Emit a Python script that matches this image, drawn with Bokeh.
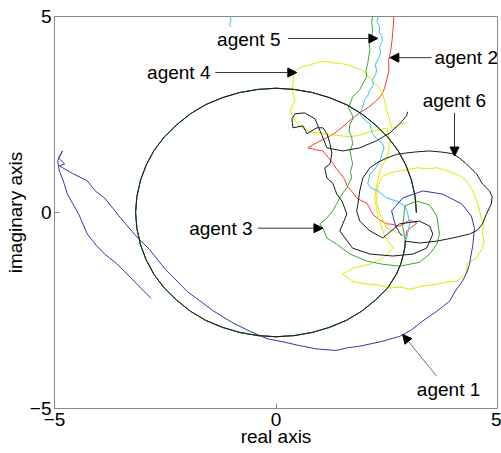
from bokeh.plotting import figure
from bokeh.models import Range1d, FixedTicker, Arrow, NormalHead, Label
from bokeh.embed import file_html
from bokeh.resources import INLINE

# shared circular part of the trajectories (agents 2-6)
circle_x = [3.17, 3.14, 3.06, 2.93, 2.75, 2.52, 2.24, 1.93, 1.59, 1.21, 0.82, 0.41, 0.0,
            -0.41, -0.82, -1.21, -1.59, -1.93, -2.24, -2.52, -2.75, -2.93, -3.06, -3.14, -3.17,
            -3.14, -3.06, -2.93, -2.75, -2.52, -2.24, -1.93, -1.59, -1.21, -0.82, -0.41, 0.0,
            0.41, 0.82, 1.21, 1.59, 1.93, 2.24, 2.52, 2.72, 2.82, 2.88, 2.91, 2.92]
circle_y = [0.0, 0.41, 0.82, 1.21, 1.59, 1.93, 2.24, 2.52, 2.75, 2.93, 3.06, 3.14, 3.17,
            3.14, 3.06, 2.93, 2.75, 2.52, 2.24, 1.93, 1.59, 1.21, 0.82, 0.41, 0.0,
            -0.41, -0.82, -1.21, -1.59, -1.93, -2.24, -2.52, -2.75, -2.93, -3.06, -3.14, -3.17,
            -3.14, -3.06, -2.93, -2.75, -2.52, -2.24, -1.93, -1.57, -1.30, -1.05, -0.88, -0.72]

# agent 1 (blue)
a1_x = [-2.82, -3.12, -3.42, -3.60, -3.87, -4.05, -4.26, -4.45, -4.71, -4.80, -4.89, -4.93, -4.82,
        -4.91, -4.77, -4.89, -4.60, -4.26, -4.08, -3.87, -3.55, -3.20, -2.85, -2.52, -2.00, -1.40,
        -1.00, -0.59, -0.20, 0.16, 0.55, 0.92, 1.35, 1.62, 1.89, 2.35, 2.79, 3.05, 3.31, 3.63,
        3.92, 4.05, 4.21, 4.30, 4.37, 4.40, 4.44, 4.48, 4.41, 4.19, 3.76, 3.31, 2.86, 2.61,
        2.70, 2.84]
a1_y = [-2.19, -1.85, -1.50, -1.30, -1.06, -0.85, -0.55, -0.05, 0.47, 0.80, 1.06, 1.32, 1.57,
        1.39, 1.24, 1.19, 1.00, 0.81, 0.55, 0.37, -0.08, -0.55, -0.95, -1.42, -2.02, -2.52,
        -2.80, -3.03, -3.22, -3.30, -3.40, -3.48, -3.52, -3.45, -3.41, -3.30, -3.16, -3.00, -2.77, -2.52,
        -2.26, -2.00, -1.75, -1.55, -1.32, -1.10, -0.86, -0.40, -0.09, 0.22, 0.47, 0.55, 0.37, 0.04,
        -0.35, -0.60]

# agent 2 (red) tail
a2_x = [2.95, 3.18, 3.02, 2.79, 2.62, 2.50, 2.35, 2.18, 2.12, 2.05, 1.93, 1.82, 1.74, 1.60, 1.55,
        1.44, 1.36, 1.28, 1.18, 1.06, 0.90, 0.72, 0.95, 1.15, 1.32, 1.51, 1.70, 1.89, 2.08, 2.27,
        2.38, 2.45, 2.50, 2.55, 2.54, 2.59, 2.62, 2.64, 2.66]
a2_y = [-0.47, -0.27, -0.19, -0.35, -0.30, -0.29, -0.20, -0.04, 0.10, 0.24, 0.30, 0.37, 0.50, 0.68, 0.85,
        1.01, 1.12, 1.27, 1.40, 1.57, 1.60, 1.65, 1.80, 1.91, 2.02, 2.19, 2.38, 2.54, 2.68, 2.85,
        3.00, 3.16, 3.38, 3.62, 3.88, 4.13, 4.40, 4.64, 5.0]

# agent 3 (green) tail
a3_x = [2.86, 2.91, 3.18, 3.47, 3.63, 3.69, 3.63, 3.47, 3.24, 2.79, 2.41, 2.05, 1.67, 1.37, 1.15,
        1.06, 0.99, 1.15, 1.28, 1.36, 1.44, 1.52, 1.60, 1.66, 1.71, 1.68, 1.73, 1.70, 1.67, 1.73,
        1.71, 1.65, 1.67, 1.74, 1.71, 1.64, 1.67, 1.73, 1.89, 1.96, 2.05, 2.03, 2.07, 2.12, 2.10,
        2.16, 2.18, 2.16, 2.18]
a3_y = [-0.35, 0.17, 0.29, 0.19, -0.09, -0.55, -0.81, -1.06, -1.27, -1.37, -1.32, -1.24, -1.06, -0.81, -0.65,
        -0.40, -0.29, -0.14, 0.04, 0.20, 0.37, 0.52, 0.63, 0.78, 0.88, 1.05, 1.24, 1.40, 1.57, 1.75,
        1.91, 2.08, 2.26, 2.40, 2.52, 2.65, 2.77, 2.95, 3.13, 3.29, 3.47, 3.62, 3.80, 4.16, 4.30,
        4.41, 4.67, 4.85, 5.0]

# agent 4 (yellow) tail
a4_x = [2.91, 2.75, 2.50, 2.34, 2.27, 2.30, 2.41, 2.60, 2.79, 3.00, 3.18, 3.40, 3.63, 3.82, 3.99,
        4.18, 4.30, 4.44, 4.53, 4.58, 4.62, 4.68, 4.66, 4.70, 4.66, 4.53, 4.32, 4.28, 4.08, 3.85,
        3.63, 3.30, 3.02, 2.80, 2.57, 2.35, 2.12, 1.90, 1.73, 1.51, 1.73, 2.12, 2.41, 2.64, 2.45,
        2.30, 2.23, 2.27, 2.34, 2.52, 2.57, 2.50, 2.30, 2.12, 1.90, 1.67, 1.45, 1.22, 1.00, 0.77,
        0.54, 0.43, 0.32, 0.43, 0.36, 0.40, 0.38, 0.54, 0.72, 0.92, 1.10, 1.28, 1.48, 1.67, 1.96,
        2.18, 2.39, 2.45, 2.50, 2.57, 2.61, 2.79, 2.95]
a4_y = [-0.60, -0.52, -0.40, -0.04, 0.29, 0.68, 0.93, 1.02, 1.06, 1.10, 1.14, 1.12, 1.14, 1.08, 1.01,
        0.92, 0.81, 0.55, 0.29, 0.12, -0.09, -0.30, -0.55, -0.75, -0.91, -1.16, -1.29, -1.57, -1.75, -1.78,
        -1.83, -1.88, -1.96, -1.90, -1.93, -1.86, -1.83, -1.80, -1.75, -1.57, -1.42, -1.32, -1.16, -0.91, -0.60,
        -0.09, 0.37, 0.68, 1.06, 1.44, 1.83, 2.16, 2.10, 2.06, 1.98, 1.93, 1.96, 1.98, 2.03, 2.06,
        2.19, 2.34, 2.60, 2.85, 3.18, 3.38, 3.57, 3.70, 3.75, 3.82, 3.86, 3.82, 3.80, 3.75, 3.62,
        3.36, 3.11, 2.85, 2.60, 2.34, 2.14, 2.24, 2.29]

# agent 5 (cyan) tail and a short excursion near the top
a5_x = [2.95, 3.02, 2.97, 2.91, 2.73, 2.50, 2.30, 2.15, 2.07, 2.12, 2.22, 2.30, 2.36, 2.39, 2.44,
        2.41, 2.30, 2.18, 2.15, 2.12, 2.03, 1.95, 1.89, 1.96, 2.00, 2.08, 2.12, 2.20, 2.18, 2.25,
        2.27, 2.24, 2.30, 2.36, 2.34, 2.40, 2.39, 2.33, 2.34, 2.28, 2.30]
a5_y = [-0.65, -0.27, -0.01, 0.17, 0.29, 0.37, 0.55, 0.62, 0.73, 0.98, 1.08, 1.24, 1.36, 1.50, 1.62,
        1.75, 1.86, 2.01, 2.12, 2.26, 2.34, 2.42, 2.52, 2.70, 2.88, 3.00, 3.13, 3.25, 3.39, 3.52,
        3.64, 3.77, 3.90, 4.05, 4.23, 4.36, 4.49, 4.60, 4.74, 4.88, 5.0]
a5b_x = [-1.04, -1.01, -1.06, -1.01]
a5b_y = [5.0, 4.90, 4.79, 4.74]

# agent 6 (black) tail
a6_x = [2.91, 3.24, 3.63, 3.99, 4.37, 4.55, 4.66, 4.75, 4.86, 4.88, 4.82, 4.66, 4.53, 4.30, 4.15,
        3.99, 3.75, 3.47, 3.20, 2.95, 2.72, 2.50, 2.30, 2.12, 1.96, 1.89, 1.85, 1.82, 1.89, 2.12,
        2.41, 2.79, 3.24, 3.47, 3.54, 3.40, 3.09, 2.64, 2.12, 1.73, 1.44, 1.60, 1.49, 1.37, 1.28,
        1.15, 1.10, 1.22, 1.26, 1.22, 1.15, 1.06, 0.92, 0.70, 0.61, 0.38, 0.36, 0.43, 0.65, 0.88,
        1.04, 1.15, 1.51, 1.89, 2.27, 2.57, 2.79, 2.95, 2.97]
a6_y = [-0.73, -0.78, -0.73, -0.65, -0.55, -0.45, -0.29, -0.04, 0.22, 0.40, 0.55, 0.73, 0.98, 1.24, 1.38,
        1.50, 1.54, 1.57, 1.55, 1.52, 1.48, 1.39, 1.28, 1.14, 0.88, 0.55, 0.22, 0.04, -0.22, -0.47,
        -0.65, -0.29, -0.22, -0.35, -0.55, -0.91, -1.06, -1.11, -1.06, -0.91, -0.47, -0.04, 0.29, 0.47, 0.75,
        0.88, 1.14, 1.24, 1.50, 1.75, 2.01, 2.16, 2.16, 2.01, 2.21, 2.16, 2.39, 2.52, 2.54, 2.39,
        1.96, 1.65, 1.57, 1.65, 1.83, 2.03, 2.26, 2.47, 2.57]

# annotation labels
label_text = ["agent 5", "agent 2", "agent 4", "agent 6", "agent 3", "agent 1"]
label_x = [-1.33, 3.58, -2.91, 3.31, -1.96, 3.18]
label_y = [4.42, 3.95, 3.57, 2.85, -0.40, -4.51]
arrow_start_x = [0.27, 3.51, -1.37, 4.03, -0.41, 3.63]
arrow_start_y = [4.44, 3.95, 3.57, 2.54, -0.40, -4.18]
arrow_end_x = [2.30, 2.57, 0.47, 4.03, 1.06, 2.86]
arrow_end_y = [4.44, 3.95, 3.57, 1.44, -0.40, -3.11]

FONT = "Liberation Sans"
FRAME = "#8a8a8a"

p = figure(width=501, height=453, output_backend="svg", toolbar_location=None,
           x_range=Range1d(-5, 5), y_range=Range1d(-5, 5),
           min_border_left=54, min_border_right=4, min_border_top=16, min_border_bottom=45)
p.grid.visible = False
p.outline_line_color = FRAME
p.background_fill_color = "white"
p.border_fill_color = "white"

for ax, lbl in ((p.xaxis[0], "real axis"), (p.yaxis[0], "imaginary axis")):
    ax.ticker = FixedTicker(ticks=[-5, 0, 5])
    ax.axis_label = lbl
    ax.axis_label_text_font = FONT
    ax.axis_label_text_font_size = "19px"
    ax.axis_label_text_font_style = "normal"
    ax.axis_label_text_color = "black"
    ax.major_label_text_font = FONT
    ax.major_label_text_font_size = "19px"
    ax.major_label_text_color = "black"
    ax.axis_line_color = FRAME
    ax.major_tick_line_color = FRAME
    ax.major_tick_in = 5
    ax.major_tick_out = 0
    ax.minor_tick_line_color = None
p.xaxis[0].major_label_standoff = 4
p.xaxis[0].axis_label_standoff = -3
p.yaxis[0].major_label_standoff = 3
p.yaxis[0].axis_label_standoff = 1

paths = [
    (circle_x + a2_x, circle_y + a2_y, "#f03a3a"),
    (circle_x + a4_x, circle_y + a4_y, "#e6e600"),
    (circle_x + a5_x, circle_y + a5_y, "#33c3e8"),
    (a5b_x, a5b_y, "#33c3e8"),
    (a1_x, a1_y, "#3636a8"),
    (circle_x + a3_x, circle_y + a3_y, "#33a833"),
    (circle_x + a6_x, circle_y + a6_y, "#1a1a1a"),
]
for xs, ys, c in paths:
    p.line(xs, ys, line_color=c, line_width=1)

for i, t in enumerate(label_text):
    p.add_layout(Label(x=label_x[i], y=label_y[i], text=t, text_font=FONT, text_font_size="19px",
                       text_color="black", text_baseline="middle", text_align="left"))
    col = "#6e6e6e" if t == "agent 1" else "#333333"
    p.add_layout(Arrow(end=NormalHead(size=9, fill_color="black", line_color="black", line_width=1),
                       x_start=arrow_start_x[i], y_start=arrow_start_y[i],
                       x_end=arrow_end_x[i], y_end=arrow_end_y[i],
                       line_color=col, line_width=1))

open("out.html", "w").write(file_html(p, INLINE))
